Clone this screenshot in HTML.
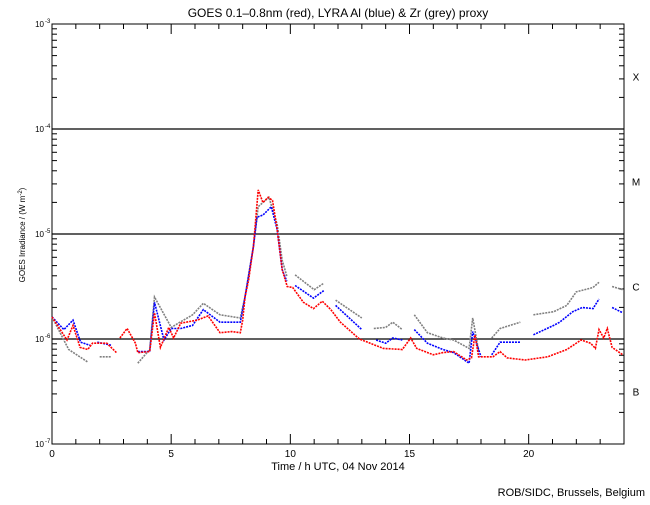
<!DOCTYPE html>
<html><head><meta charset="utf-8"><style>
body{margin:0;background:#fff;width:650px;height:500px;overflow:hidden}
svg{font-family:"Liberation Sans",sans-serif}
</style></head><body>
<svg id="chart" width="650" height="500">
<text x="338" y="17" text-anchor="middle" font-size="12">GOES 0.1–0.8nm (red), LYRA Al (blue) &amp; Zr (grey) proxy</text>
<text x="338" y="470" text-anchor="middle" font-size="11">Time / h UTC, 04 Nov 2014</text>
<text x="645" y="496" text-anchor="end" font-size="11">ROB/SIDC, Brussels, Belgium</text>
<text transform="translate(25,235) rotate(-90)" text-anchor="middle" font-size="8">GOES Irradiance / (W m<tspan dy="-3" font-size="6">-2</tspan><tspan dy="3">)</tspan></text>
<g id="axes"></g><g id="series"></g>
</svg>
<script>
const ticksX=[0,5,10,15,20];
const decades=[-3,-4,-5,-6,-7];
const classLabels=['X','M','C','B'];
const classCenters=[-3.5,-4.5,-5.5,-6.5];
const redT=[0,0.63,0.88,1.18,1.5,1.7,2.3,2.7,2.75,2.85,3.15,3.5,3.6,4.1,4.3,4.55,4.9,5.1,5.4,6.1,6.55,7.05,7.55,7.9,8.0,8.1,8.25,8.45,8.65,8.85,9.07,9.25,9.45,9.66,9.87,10.1,10.55,10.97,11.34,11.7,12.1,12.9,13.9,14.7,15.05,15.3,16.0,16.4,16.85,17.4,17.6,17.75,17.9,18.5,18.8,19.1,19.85,20.8,21.6,22.2,22.6,22.8,22.95,23.15,23.3,23.5,23.95];
const redV=[-5.79,-6.01,-5.87,-6.08,-6.10,-6.04,-6.04,-6.13,null,-5.99,-5.90,-6.04,-6.13,-6.12,-5.75,-6.08,-5.89,-5.99,-5.85,-5.82,-5.78,-5.94,-5.93,-5.94,-5.82,-5.60,-5.44,-5.12,-4.58,-4.70,-4.65,-4.68,-4.96,-5.34,-5.50,-5.51,-5.65,-5.71,-5.64,-5.72,-5.84,-6.00,-6.09,-6.10,-5.99,-6.09,-6.15,-6.13,-6.12,-6.20,-6.18,-5.96,-6.17,-6.17,-6.12,-6.18,-6.20,-6.17,-6.10,-6.01,-6.04,-6.09,-5.91,-5.99,-5.90,-6.08,-6.15];
const blueT=[0,0.5,0.88,1.2,1.6,1.75,1.9,2.5,3,3.6,4.1,4.3,4.7,5.0,5.4,5.9,6.35,7.05,7.9,8.1,8.45,8.6,8.85,9.2,9.45,9.66,9.85,10,10.2,10.97,11.4,11.6,11.9,13.0,13.3,13.6,14.0,14.3,14.7,14.9,15.2,15.75,16.4,16.85,17.5,17.65,18.0,18.2,18.45,18.8,19.65,19.9,20.2,21.05,21.3,21.85,22.25,22.7,22.95,23.2,23.5,23.95];
const blueV=[-5.79,-5.91,-5.82,-6.03,-6.06,null,-6.03,-6.06,null,-6.12,-6.12,-5.65,-6.01,-5.90,-5.90,-5.87,-5.72,-5.84,-5.84,-5.60,-5.12,-4.84,-4.82,-4.74,-4.96,-5.34,-5.45,null,-5.49,-5.61,-5.54,null,-5.68,-5.91,null,-6.01,-6.04,-5.99,-6.01,null,-5.91,-6.04,-6.10,-6.13,-6.23,-5.93,-6.17,null,-6.15,-6.03,-6.03,null,-5.96,-5.87,-5.84,-5.74,-5.70,-5.71,-5.62,null,-5.70,-5.75];
const greyT=[0,0.7,1.5,1.75,2.0,2.5,3,3.6,4.1,4.3,5.0,5.9,6.35,7.05,7.9,8.1,8.45,8.65,9.1,9.45,9.66,9.85,10,10.2,11.0,11.4,11.6,11.9,13.0,13.3,13.5,14.0,14.3,14.7,14.9,15.2,15.75,16.4,16.85,17.5,17.65,17.9,18.2,18.45,18.8,19.65,19.9,20.2,21.05,21.6,22.0,22.7,22.95,23.2,23.5,23.95];
const greyV=[-5.79,-6.10,-6.22,null,-6.17,-6.17,null,-6.23,-6.10,-5.60,-5.89,-5.77,-5.66,-5.77,-5.80,-5.60,-5.12,-4.74,-4.65,-4.91,-5.25,-5.40,null,-5.39,-5.53,-5.47,null,-5.63,-5.80,null,-5.90,-5.89,-5.84,-5.91,null,-5.77,-5.94,-5.99,-6.01,-6.09,-5.80,-6.11,null,-5.99,-5.90,-5.84,null,-5.77,-5.74,-5.68,-5.55,-5.51,-5.46,null,-5.50,-5.53];
const L=52,R=624,T=24,B=444;
const xs=h=>L+(R-L)*h/24;
const ys=l=>T+(-3-l)*(B-T)/4;
const NS='http://www.w3.org/2000/svg';
const axes=document.getElementById('axes'),ser=document.getElementById('series');
function mk(tag,attrs,parent){const e=document.createElementNS(NS,tag);for(const k in attrs)e.setAttribute(k,attrs[k]);parent.appendChild(e);return e;}
let frame=mk('rect',{x:L,y:T,width:R-L,height:B-T,fill:'none',stroke:'#000','stroke-width':1},axes);


for(let h=0;h<=24;h++){const len=ticksX.includes(h)?10:5;const x=xs(h);
 mk('line',{x1:x,y1:B,x2:x,y2:B-len,stroke:'#000'},axes);
 mk('line',{x1:x,y1:T,x2:x,y2:T+len,stroke:'#000'},axes);}
ticksX.forEach(h=>{const t=mk('text',{x:xs(h),y:457,'text-anchor':'middle','font-size':10},axes);t.textContent=h;
 
 });
decades.forEach((d,i)=>{const y=ys(d);
 if(i>0&&i<4){const g=mk('line',{x1:L,y1:y,x2:R,y2:y,stroke:'#000','stroke-width':1.3},axes);
  
  }
 const t=mk('text',{x:44,y:y+3,'text-anchor':'end','font-size':8},axes);t.textContent='10';
 const s=mk('text',{x:45,y:y-1,'font-size':6},axes);s.textContent=d;
 
 
 if(d>-7){for(let m=2;m<=9;m++){const yy=ys(d-1+Math.log10(m));
  mk('line',{x1:L,y1:yy,x2:L+5,y2:yy,stroke:'#000'},axes);
  mk('line',{x1:R,y1:yy,x2:R-5,y2:yy,stroke:'#000'},axes);}}
 mk('line',{x1:L,y1:y,x2:L+10,y2:y,stroke:'#000'},axes);
 mk('line',{x1:R,y1:y,x2:R-10,y2:y,stroke:'#000'},axes);
});
classLabels.forEach((c,i)=>{const t=mk('text',{x:636,y:ys(classCenters[i])+4,'text-anchor':'middle','font-size':10},axes);t.textContent=c;
 
 });
function draw(T_,V,color,name){let d='',pen=false;
 T_.forEach((t,i)=>{const v=V[i];if(v===null){pen=false;return;}
  d+=(pen?'L':'M')+xs(t).toFixed(1)+','+ys(v).toFixed(1);pen=true;});
 const p=mk('path',{d:d,fill:'none',stroke:color,'stroke-width':1.6,'stroke-dasharray':'2 1'},ser);
 
 }
draw(greyT,greyV,'#808080','zr-grey-series');
draw(blueT,blueV,'#0000ff','al-blue-series');
draw(redT,redV,'#ff0000','goes-red-series');
</script>
</body></html>
